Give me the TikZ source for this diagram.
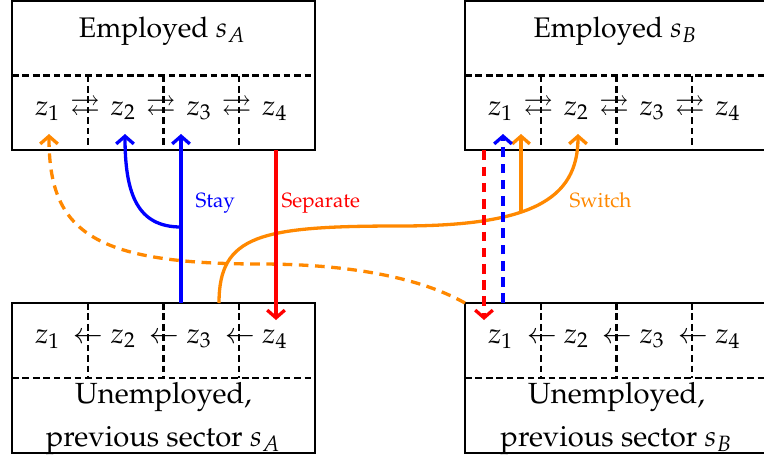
\documentclass[tikz,border=0pt]{standalone}
\usepackage[T1]{fontenc}
\usepackage{amssymb}
\usepackage{mathpazo}
\usetikzlibrary{arrows.meta,calc}
\definecolor{myorange}{RGB}{255,136,0}
\begin{document}
\begin{tikzpicture}[x=0.3636pt,y=-0.3636pt,
  font=\fontsize{10.3}{12}\selectfont,
  box/.style={draw, line width=0.75pt, inner sep=0pt, outer sep=0pt, minimum width=110.17pt},
  dline/.style={line width=0.8pt, dash pattern=on 2.4pt off 1.4pt},
  zlab/.style={anchor=base, inner sep=0pt},
  flow/.style={line width=1.2pt, -{Straight Barb[length=2.8pt,width=6.4pt]}},
  fdash/.style={flow, dash pattern=on 3.5pt off 2.4pt},
  lab/.style={anchor=base west, inner sep=0pt, font=\fontsize{7.5}{9}\selectfont},
  utext/.style={anchor=base, align=center, font=\fontsize{10.6}{15.6}\selectfont},
]
\useasboundingbox (0,0) rectangle (764,459);

% boxes
\node[box, minimum height=54.18pt] (EA) at (163.5,75.5) {};
\node[box, minimum height=54.18pt] (EB) at (616.5,75.5) {};
\node[box, minimum height=54.54pt] (UA) at (163.5,378) {};
\node[box, minimum height=54.54pt] (UB) at (616.5,378) {};

\foreach \b in {EA,EB,UA,UB} \draw[dline] (\b.west) -- (\b.east);
\foreach \b in {EA,EB} \foreach \f in {0.25,0.5,0.75}
  \draw[dline] ($(\b.west)!\f!(\b.east)$) -- ($(\b.south west)!\f!(\b.south east)$);
\foreach \b in {UA,UB} \foreach \f in {0.25,0.5,0.75}
  \draw[dline] ($(\b.north west)!\f!(\b.north east)$) -- ($(\b.west)!\f!(\b.east)$);

% titles
\node[anchor=base] (tEA) at (162.5,37) {Employed $s_A$};
\node[anchor=base] (tEB) at (615.5,37) {Employed $s_B$};
\node[utext] (tUA) at (163.5,446) {Unemployed,\\previous sector $s_A$};
\node[utext] (tUB) at (616.5,446) {Unemployed,\\previous sector $s_B$};

% z labels
\foreach \i/\x in {1/47.9,2/123.6,3/199.4,4/275.1}{
  \node[zlab] (EAz\i) at (\x,115) {$z_\i$};
  \node[zlab] (UAz\i) at (\x,343) {$z_\i$};
}
\foreach \i/\x in {1/500.9,2/576.6,3/652.4,4/728.1}{
  \node[zlab] (EBz\i) at (\x,115) {$z_\i$};
  \node[zlab] (UBz\i) at (\x,343) {$z_\i$};
}
\foreach \i/\x in {1/85.25,2/161,3/236.75}
  \node[zlab] (EAr\i) at (\x,115) {$\rightleftarrows$};
\foreach \i/\x in {1/538.25,2/614,3/689.75}
  \node[zlab] (EBr\i) at (\x,115) {$\rightleftarrows$};
\foreach \i/\x in {1/88.75,2/164.5,3/240.25}
  \node[zlab] (UAl\i) at (\x,343) {$\leftarrow$};
\foreach \i/\x in {1/541.75,2/617.5,3/693.25}
  \node[zlab] (UBl\i) at (\x,343) {$\leftarrow$};

% arrow end points
\coordinate (stayS) at (181,303);
\coordinate (stayE) at (181,134);
\coordinate (stayB) at (181,227);
\coordinate (stayE2) at (125,134);
\coordinate (sepS) at (276,150.4);
\coordinate (sepE) at (276,320);
\coordinate (swS) at (219,303);
\coordinate (swM) at (400,226);
\coordinate (swE) at (578,134);
\coordinate (swB) at (521,211);
\coordinate (swE2) at (521,134);
\coordinate (retM) at (260,264);
\coordinate (retE) at (49,134);
\coordinate (bsepS) at (484,150.4);
\coordinate (bsepE) at (484,320);
\coordinate (bstayS) at (503,303);
\coordinate (bstayE) at (503,134);

% arrows
\draw[fdash, myorange] (UB.north west) .. controls (415,275) and (340,264) .. (retM)
  .. controls (90,264) and (49,230) .. (retE);
\draw[flow, myorange] (swS) .. controls (219,235) and (260,226) .. (swM)
  .. controls (530,226) and (578,200) .. (swE);
\draw[flow, myorange] (swB) -- (swE2);
\draw[flow, red] (sepS) -- (sepE);
\draw[flow, blue] (stayS) -- (stayE);
\draw[flow, blue] (stayB) .. controls (138,227) and (125,195) .. (stayE2);
\draw[fdash, red] (bsepS) -- (bsepE);
\draw[fdash, blue] (bstayS) -- (bstayE);

% labels
\node[lab, text=blue] (stay) at (195,207) {Stay};
\node[lab, text=red] (sep) at (281,207) {Separate};
\node[lab, text=myorange] (sw) at (569,207) {Switch};
\end{tikzpicture}
\end{document}
